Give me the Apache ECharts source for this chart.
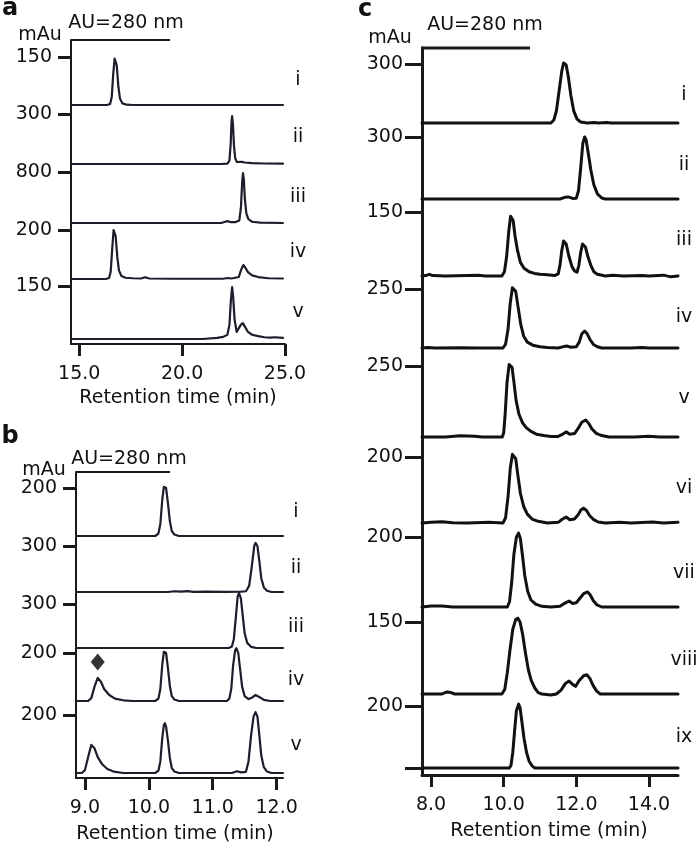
<!DOCTYPE html>
<html><head><meta charset="utf-8">
<script src="https://cdn.jsdelivr.net/npm/echarts@6/dist/echarts.min.js"></script>
<style>html,body{margin:0;padding:0;background:#fff}#c{width:697px;height:848px}</style>
</head><body><div id="c"></div>
<script>
// ================= DATA =================
// ---- panel a ----
const aTraceNames = ['i','ii','iii','iv','v'];
const aScaleLabels = [150,300,800,200,150];          // mAu full scale per trace
const aXTicks = [15,20,25];
const aTraceI = [[14.6,0],[16.35,0],[16.5,3],[16.58,25],[16.65,95],[16.72,145],[16.76,150],[16.82,125],[16.9,60],[16.98,20],[17.1,5],[17.3,1],[17.6,0],[24.9,0]];
const aTraceII = [[14.6,0],[21.9,0],[22.2,2],[22.3,20],[22.36,120],[22.4,250],[22.43,288],[22.47,240],[22.52,110],[22.58,35],[22.66,12],[22.75,8],[22.9,13],[23.05,9],[23.4,5],[24.0,3],[24.9,2]];
const aTraceIII = [[14.6,0],[21.9,0],[22.1,20],[22.2,30],[22.35,15],[22.6,15],[22.78,40],[22.86,250],[22.92,650],[22.96,784],[23.0,680],[23.05,380],[23.12,150],[23.22,60],[23.4,20],[23.8,5],[24.9,0]];
const aTraceIV = [[14.6,0],[16.3,0],[16.45,4],[16.53,30],[16.6,120],[16.67,200],[16.71,208],[16.77,175],[16.85,90],[16.93,35],[17.05,12],[17.25,5],[17.6,3],[18.0,2],[18.2,7],[18.4,2],[19.5,1],[22.0,1],[22.2,4],[22.4,2],[22.75,8],[22.88,40],[22.98,57],[23.08,45],[23.2,28],[23.4,15],[23.7,8],[24.2,3],[24.9,2]];
const aTraceV = [[14.6,0],[21.0,0],[21.7,3],[22.0,6],[22.2,12],[22.3,40],[22.37,110],[22.43,147],[22.48,120],[22.55,55],[22.65,20],[22.74,22],[22.85,40],[22.95,45],[23.05,35],[23.2,20],[23.4,12],[23.7,8],[24.0,5],[24.3,4],[24.5,5],[24.9,3]];

// ---- panel b ----
const bTraceNames = ['i','ii','iii','iv','v'];
const bScaleLabels = [200,300,300,200,200];
const bXTicks = [9,10,11,12];
const bTraceI = [[8.86,0],[10.1,0],[10.15,10],[10.18,50],[10.21,150],[10.235,205],[10.25,212],[10.27,200],[10.3,135],[10.33,60],[10.36,20],[10.4,6],[10.47,0],[12.1,0]];
const bTraceII = [[8.86,0],[10.3,0],[10.4,5],[10.5,2],[10.6,6],[10.7,1],[10.9,3],[11.2,1],[11.45,3],[11.52,5],[11.57,40],[11.61,160],[11.65,300],[11.67,320],[11.7,300],[11.73,200],[11.76,90],[11.8,30],[11.85,8],[11.92,0],[12.1,0]];
const bTraceIII = [[8.86,0],[11.25,0],[11.3,10],[11.33,60],[11.36,200],[11.39,350],[11.41,375],[11.44,340],[11.47,220],[11.5,100],[11.54,35],[11.6,8],[11.68,0],[12.1,0]];
const bTraceIV = [[8.86,0],[9.05,0],[9.1,12],[9.15,60],[9.2,96],[9.25,80],[9.3,50],[9.38,25],[9.47,10],[9.6,3],[9.75,0],[10.1,0],[10.15,10],[10.18,50],[10.21,150],[10.235,205],[10.25,212],[10.27,200],[10.3,135],[10.33,60],[10.36,20],[10.4,6],[10.47,0],[11.22,0],[11.26,10],[11.29,50],[11.32,150],[11.35,210],[11.37,220],[11.4,200],[11.43,130],[11.46,60],[11.5,20],[11.56,8],[11.62,15],[11.67,25],[11.72,18],[11.8,5],[11.9,0],[12.1,0]];
const bTraceV = [[8.86,0],[8.95,0],[9.0,10],[9.05,55],[9.1,97],[9.15,85],[9.2,55],[9.27,30],[9.35,14],[9.45,5],[9.6,0],[10.1,0],[10.15,8],[10.18,40],[10.21,120],[10.235,165],[10.25,172],[10.27,160],[10.3,110],[10.33,50],[10.36,17],[10.4,5],[10.47,0],[11.3,0],[11.38,6],[11.45,2],[11.52,4],[11.56,40],[11.6,130],[11.64,195],[11.67,210],[11.7,195],[11.73,130],[11.76,60],[11.8,20],[11.85,5],[11.92,0],[12.1,0]];
const bMarkerIV = [[9.2,162]];   // diamond above first peak of trace iv (mAu of trace iv)

// ---- panel c ----
const cTraceNames = ['i','ii','iii','iv','v','vi','vii','viii','ix'];
const cScaleLabels = [300,300,150,250,250,200,200,150,200];
const cXTicks = [8,10,12,14];
const cTraceI = [[7.75,0],[11.3,0],[11.38,15],[11.45,60],[11.52,155],[11.6,265],[11.65,305],[11.68,310],[11.72,295],[11.78,235],[11.85,140],[11.93,60],[12.02,20],[12.12,5],[12.3,0],[12.5,3],[12.6,0],[12.85,3],[12.95,0],[14.8,0]];
const cTraceII = [[7.75,0],[11.55,0],[11.68,8],[11.78,10],[11.9,3],[12.0,4],[12.06,40],[12.12,150],[12.18,270],[12.23,300],[12.27,285],[12.33,220],[12.4,140],[12.48,70],[12.58,25],[12.7,5],[12.8,0],[14.8,0]];
const cTraceIII = [[7.75,0],[7.85,1],[7.95,4],[8.05,1],[8.4,0],[9.0,1],[9.3,2],[9.5,0],[9.95,0],[10.02,10],[10.08,45],[10.14,105],[10.19,140],[10.22,143],[10.26,130],[10.31,95],[10.38,60],[10.46,32],[10.56,18],[10.7,10],[10.85,6],[11.0,4],[11.2,3],[11.4,1],[11.5,5],[11.55,25],[11.6,60],[11.65,82],[11.68,84],[11.72,75],[11.8,45],[11.88,22],[11.95,12],[12.02,9],[12.07,25],[12.12,55],[12.17,75],[12.2,77],[12.25,68],[12.32,45],[12.4,25],[12.48,10],[12.58,4],[12.8,0],[13.0,2],[13.3,0],[13.8,1],[14.0,0],[14.4,2],[14.6,-2],[14.8,0]];
const cTraceIV = [[7.75,0],[7.9,2],[8.1,0],[8.8,1],[9.3,0],[9.98,0],[10.05,15],[10.12,80],[10.18,190],[10.24,255],[10.28,263],[10.33,240],[10.4,170],[10.47,100],[10.55,50],[10.65,25],[10.8,12],[11.0,5],[11.2,2],[11.5,0],[11.65,6],[11.75,8],[11.85,3],[12.0,5],[12.08,25],[12.15,60],[12.23,72],[12.3,60],[12.38,35],[12.47,15],[12.58,5],[12.7,0],[13.5,0],[13.8,2],[14.0,0],[14.8,0]];
const cTraceV = [[7.75,0],[8.4,0],[8.8,4],[9.2,3],[9.4,0],[9.96,0],[10.0,15],[10.04,80],[10.09,190],[10.15,255],[10.19,261],[10.23,245],[10.28,195],[10.34,130],[10.42,80],[10.52,50],[10.62,33],[10.75,20],[10.9,10],[11.1,5],[11.3,2],[11.5,2],[11.6,8],[11.72,18],[11.82,10],[11.95,12],[12.05,30],[12.15,52],[12.26,60],[12.34,48],[12.43,28],[12.55,13],[12.7,5],[12.9,0],[13.6,0],[14.0,3],[14.3,0],[14.8,0]];
const cTraceVI = [[7.75,0],[8.0,2],[8.3,4],[8.6,1],[9.0,0],[9.6,2],[9.98,0],[10.05,15],[10.12,80],[10.18,165],[10.24,208],[10.28,212],[10.33,195],[10.39,145],[10.46,90],[10.55,50],[10.65,27],[10.78,12],[10.95,5],[11.2,0],[11.5,2],[11.62,12],[11.72,18],[11.82,10],[11.95,12],[12.05,25],[12.13,40],[12.2,45],[12.28,38],[12.37,22],[12.48,10],[12.6,3],[12.8,0],[13.2,2],[13.5,0],[14.1,3],[14.4,0],[14.8,2]];
const cTraceVII = [[7.75,0],[8.0,3],[8.3,3],[8.6,0],[10.1,0],[10.16,15],[10.22,70],[10.28,150],[10.35,200],[10.41,211],[10.46,195],[10.52,145],[10.58,90],[10.66,45],[10.75,20],[10.88,8],[11.05,2],[11.3,0],[11.55,2],[11.7,12],[11.8,17],[11.9,10],[12.0,12],[12.1,25],[12.2,38],[12.31,43],[12.38,35],[12.47,18],[12.57,6],[12.7,0],[14.8,0]];
const cTraceVIII = [[7.75,0],[8.3,0],[8.42,4],[8.55,3],[8.65,0],[9.95,0],[10.03,10],[10.1,45],[10.17,90],[10.25,135],[10.33,155],[10.39,158],[10.45,150],[10.52,125],[10.6,85],[10.68,50],[10.76,28],[10.86,12],[10.95,3],[11.05,0],[11.3,-2],[11.45,0],[11.58,8],[11.7,22],[11.8,27],[11.9,20],[11.98,16],[12.08,28],[12.2,38],[12.29,40],[12.37,33],[12.46,18],[12.56,6],[12.66,0],[14.8,0]];
const cTraceIX = [[7.75,0],[10.15,0],[10.2,8],[10.25,50],[10.3,120],[10.35,185],[10.41,206],[10.45,195],[10.5,150],[10.56,95],[10.63,50],[10.7,22],[10.78,7],[10.86,0],[14.8,0]];

// ================= LAYOUT (offsets of stacked traces, in panel layout units) =================
const FONT = 'DejaVu Sans';
const aBase = [239,180,121,65,5],  aTick = [287,230,172,114,58];
const bBase = [242,186,130,77,5],  bTick = [290,232,174,125,63];
const cBase = [652,576,499,427,338,252,168,81,7], cTick = [711,638,563,486,409,318,238,153,69];

const panels = [
  {traces:[aTraceI,aTraceII,aTraceIII,aTraceIV,aTraceV], labels:aScaleLabels, base:aBase, tick:aTick, extraTicks:[],
   grid:{left:71, top:40, width:214, height:304}, xmin:14.6, xmax:25, xt:aXTicks, ymax:304, color:'#1d1d2b', lw:2.2, axw:2, tickLen:13},
  {traces:[bTraceI,bTraceII,bTraceIII,bTraceIV,bTraceV], labels:bScaleLabels, base:bBase, tick:bTick, extraTicks:[],
   grid:{left:76, top:472, width:207, height:306}, xmin:8.86, xmax:12.1, xt:bXTicks, ymax:306, color:'#1d1d2b', lw:2.2, axw:2, tickLen:13},
  {traces:[cTraceI,cTraceII,cTraceIII,cTraceIV,cTraceV,cTraceVI,cTraceVII,cTraceVIII,cTraceIX], labels:cScaleLabels, base:cBase, tick:cTick, extraTicks:[7],
   grid:{left:422, top:48, width:256, height:727}, xmin:7.75, xmax:14.8, xt:cXTicks, ymax:727, color:'#111', lw:3, axw:3, tickLen:17}
];

function place(p, k, m){ return p.base[k] + m / p.labels[k] * (p.tick[k] - p.base[k]); }

const grids = [], xAxes = [], yAxes = [], series = [];
panels.forEach((p, gi) => {
  grids.push(Object.assign({outerBoundsMode:'none', containLabel:false}, p.grid));
  xAxes.push({type:'value', gridIndex:gi, min:p.xmin, max:p.xmax,
    axisLine:{onZero:false, lineStyle:{color:'#1a1a1a', width:p.axw}},
    axisTick:{customValues:p.xt, length:12, lineStyle:{color:'#1a1a1a', width:3}},
    axisLabel:{customValues:p.xt, formatter:v=>Number(v).toFixed(1), margin:21, color:'#111', fontSize:19, fontFamily:FONT},
    splitLine:{show:false}});
  const lblMap = {};
  p.tick.forEach((t,k)=>{ lblMap[t] = String(p.labels[k]); });
  p.extraTicks.forEach(t=>{ lblMap[t] = ''; });
  const yt = p.tick.concat(p.extraTicks);
  yAxes.push({type:'value', gridIndex:gi, min:0, max:p.ymax,
    axisLine:{show:true, onZero:false, lineStyle:{color:'#1a1a1a', width:p.axw}},
    axisTick:{show:true, customValues:yt, length:p.tickLen, lineStyle:{color:'#1a1a1a', width:3}},
    axisLabel:{show:true, customValues:yt, formatter:v=>lblMap[v] ?? '', margin:19, color:'#111', fontSize:19, fontFamily:FONT},
    splitLine:{show:false}});
  p.traces.forEach((tr, k) => {
    series.push({type:'line', xAxisIndex:gi, yAxisIndex:gi, symbol:'none', showSymbol:false, silent:true,
      lineStyle:{color:p.color, width:p.lw, join:'round', cap:'round'},
      data: tr.map(pt => [pt[0], place(p, k, pt[1])])});
  });
});
series.push({type:'scatter', xAxisIndex:1, yAxisIndex:1, symbol:'diamond', symbolSize:[14,17], silent:true,
  itemStyle:{color:'#000'}, data: bMarkerIV.map(pt => [pt[0], place(panels[1], 3, pt[1])])});

// ================= annotations =================
function txt(t, x, y, opt){ return {type:'text', x, y, silent:true, style:Object.assign({text:t, fill:'#111', font:'19px "'+FONT+'"', align:'center', verticalAlign:'middle'}, opt||{})}; }
function hline(x1, x2, y, w){ return {type:'line', silent:true, shape:{x1, y1:y, x2, y2:y}, style:{stroke:'#1a1a1a', lineWidth:w}}; }
const graphics = [
  txt('a', 10, 9, {font:'bold 24px "'+FONT+'"'}),
  txt('b', 10, 437, {font:'bold 24px "'+FONT+'"'}),
  txt('c', 365, 10, {font:'bold 24px "'+FONT+'"'}),
  txt('AU=280 nm', 126, 23), txt('mAu', 40, 35), hline(71, 170, 40, 2),
  txt('AU=280 nm', 129, 459), txt('mAu', 44, 470), hline(76, 170, 472, 2),
  txt('AU=280 nm', 485, 25), txt('mAu', 390, 38), hline(421, 530, 48, 3),
  txt('Retention time (min)', 178, 398), txt('Retention time (min)', 175, 834), txt('Retention time (min)', 549, 831)
];
const aLabelY = [80,137,197,252,312], bLabelY = [512,568,627,680,745], cLabelY = [95,165,240,317,398,488,573,660,737];
aTraceNames.forEach((n,k)=>graphics.push(txt(n, 298, aLabelY[k])));
bTraceNames.forEach((n,k)=>graphics.push(txt(n, 296, bLabelY[k])));
cTraceNames.forEach((n,k)=>graphics.push(txt(n, 684, cLabelY[k])));

const chart = echarts.init(document.getElementById('c'), null, {renderer:'canvas'});
chart.setOption({animation:false, backgroundColor:'#fff', grid:grids, xAxis:xAxes, yAxis:yAxes, series, graphic:graphics});
</script></body></html>
